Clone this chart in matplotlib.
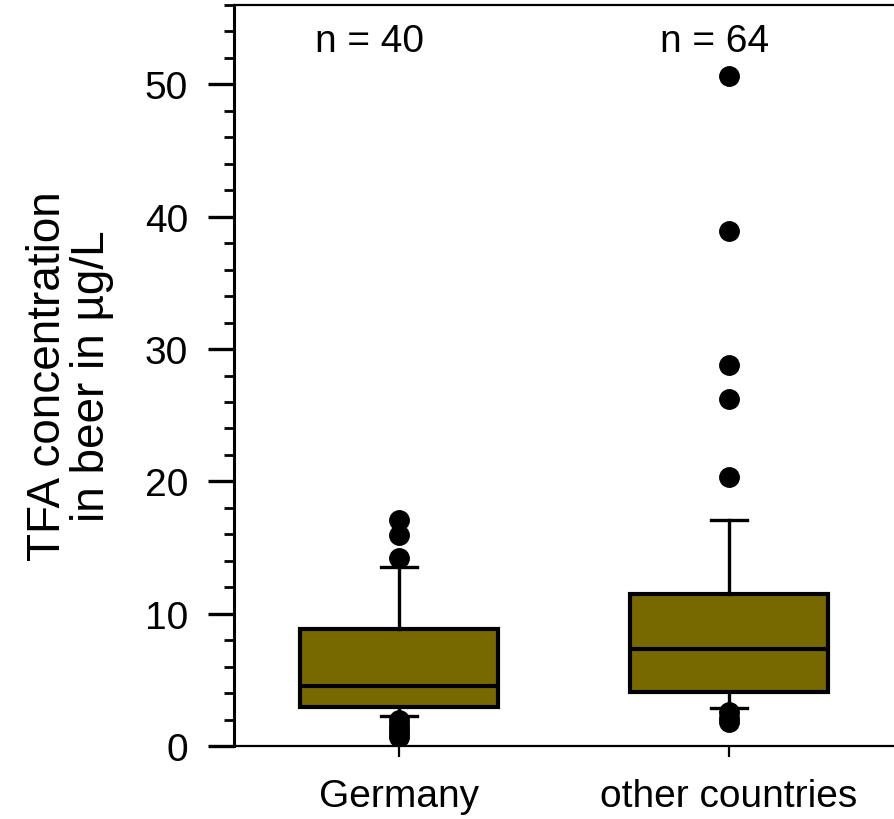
import matplotlib
matplotlib.use('Agg')
import matplotlib.pyplot as plt
from matplotlib.ticker import MultipleLocator

plt.rcParams['font.family'] = ['Liberation Sans', 'DejaVu Sans']

# Boxplot statistics (µg/L)
groups = ['Germany', 'other countries']
counts = [40, 64]
q1 = [2.95, 4.1]
med = [4.55, 7.35]
q3 = [8.85, 11.45]
whislo = [2.25, 2.9]
whishi = [13.5, 17.1]
outliers = [
    [17.05, 15.95, 14.2, 2.0, 1.6, 1.25, 0.95, 0.7],
    [50.6, 38.9, 28.8, 26.2, 20.35, 2.6, 2.1, 1.8],
]

box_color = '#786800'

stats = []
for i in range(len(groups)):
    stats.append({
        'label': groups[i],
        'q1': q1[i], 'med': med[i], 'q3': q3[i],
        'whislo': whislo[i], 'whishi': whishi[i],
        'fliers': outliers[i],
    })

fig = plt.figure(figsize=(8.94, 8.20), dpi=100)
ax = fig.add_axes([234 / 894, 73 / 820, 1 - 234 / 894, (747 - 6) / 820])

ax.bxp(stats, positions=[1, 2], widths=0.6, patch_artist=True,
       boxprops=dict(facecolor=box_color, edgecolor='black', linewidth=3.0),
       medianprops=dict(color='black', linewidth=3.0),
       whiskerprops=dict(color='black', linewidth=2.4),
       capprops=dict(color='black', linewidth=2.4),
       capwidths=0.11,
       flierprops=dict(marker='o', markerfacecolor='black', markeredgecolor='black',
                       markersize=14, linestyle='none'))

ax.set_xlim(0.5, 2.5)
ax.set_ylim(0, 56)

ax.yaxis.set_major_locator(MultipleLocator(10))
ax.yaxis.set_minor_locator(MultipleLocator(2))
ax.tick_params(axis='y', which='major', direction='out', length=19, width=2.4,
               labelsize=28, pad=14)
ax.tick_params(axis='y', which='minor', direction='out', length=7, width=2)
ax.tick_params(axis='x', which='major', direction='out', length=8, width=1.6,
               labelsize=28, pad=15)
ax.set_xticks([1, 2])
ax.set_xticklabels(groups)

ax.spines['right'].set_visible(False)
ax.spines['left'].set_linewidth(2.2)
ax.spines['top'].set_linewidth(1.6)
ax.spines['bottom'].set_linewidth(1.6)

ax.set_ylabel('TFA concentration\nin beer in µg/L', fontsize=33, labelpad=22,
              linespacing=1.0)

label_x = [0.91, 1.955]
for x, n in zip(label_x, counts):
    ax.text(x, 53.3, f'n = {n}', ha='center', va='center', fontsize=28)

fig.savefig('out.png', dpi=100)
